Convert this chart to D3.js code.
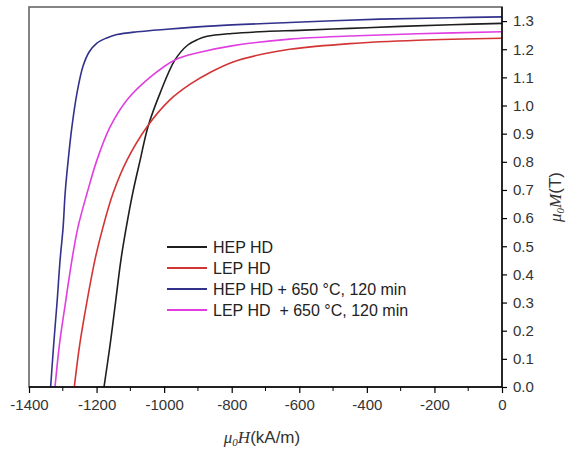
<!DOCTYPE html>
<html>
<head>
<meta charset="utf-8">
<script src="https://cdn.jsdelivr.net/npm/d3@7"></script>
<style>
  body { margin: 0; background: #fff; }
  text { font-family: "Liberation Sans", Arial, sans-serif; }
</style>
</head>
<body>
<div id="chart"></div>
<script>
// Demagnetization curves, H in kA/m, M in T
const hepH = [-1178, -1160, -1144, -1128, -1112, -1093, -1071, -1048, -1012, -968, -930, -900, -873, -800, -700, -600, -450, -300, -150, 0];
const hepM = [0, 0.15, 0.3, 0.451, 0.568, 0.689, 0.806, 0.924, 1.044, 1.162, 1.215, 1.235, 1.246, 1.256, 1.263, 1.267, 1.274, 1.281, 1.287, 1.292];

const lepH = [-1266, -1250, -1229, -1205, -1181, -1151, -1110, -1051, -983, -924, -860, -796, -700, -628, -450, -250, 0];
const lepM = [0, 0.15, 0.3, 0.451, 0.568, 0.689, 0.806, 0.924, 1.02, 1.075, 1.12, 1.155, 1.185, 1.2, 1.22, 1.232, 1.239];

const hepAnnH = [-1336, -1327, -1317, -1308, -1299, -1293, -1284, -1273, -1258, -1240, -1222, -1199, -1170, -1140, -1080, -992, -850, -628, -362, -150, 0];
const hepAnnM = [0, 0.15, 0.3, 0.451, 0.568, 0.689, 0.806, 0.924, 1.044, 1.14, 1.19, 1.222, 1.24, 1.252, 1.262, 1.271, 1.283, 1.295, 1.307, 1.312, 1.315];

const lepAnnH = [-1323, -1310, -1292, -1273, -1255, -1228, -1199, -1160, -1110, -1042, -968, -894, -800, -628, -450, -250, 0];
const lepAnnM = [0, 0.15, 0.3, 0.451, 0.568, 0.689, 0.806, 0.924, 1.02, 1.1, 1.162, 1.189, 1.212, 1.236, 1.247, 1.255, 1.262];

const seriesNames = ["HEP HD", "LEP HD", "HEP HD + 650 \u00b0C, 120 min", "LEP HD  + 650 \u00b0C, 120 min"];
const seriesColors = ["#1e1e1e", "#d33434", "#32328c", "#e03ee0"];

const xTicks = [-1400, -1200, -1000, -800, -600, -400, -200, 0];
const xMinorTicks = [-1300, -1100, -900, -700, -500, -300, -100];
const yTicks = [0, 0.1, 0.2, 0.3, 0.4, 0.5, 0.6, 0.7, 0.8, 0.9, 1.0, 1.1, 1.2, 1.3];

const width = 570;
const height = 452;
const plot = { left: 29, top: 7, right: 502, bottom: 387 };

const svg = d3.select("#chart").append("svg")
    .attr("width", width)
    .attr("height", height);

const x = d3.scaleLinear().domain([-1400, 0]).range([plot.left, plot.right]);
const y = d3.scaleLinear().domain([0, 1.35]).range([plot.bottom, plot.top]);

svg.append("clipPath").attr("id", "clip")
  .append("rect")
    .attr("x", plot.left).attr("y", plot.top)
    .attr("width", plot.right - plot.left)
    .attr("height", plot.bottom - plot.top);

// frame (grey on left/top)
svg.append("rect")
    .attr("x", plot.left).attr("y", plot.top)
    .attr("width", plot.right - plot.left)
    .attr("height", plot.bottom - plot.top)
    .attr("fill", "none")
    .attr("stroke", "#666")
    .attr("stroke-width", 1.6);

// curves
const series = [
    { H: hepH, M: hepM },
    { H: lepH, M: lepM },
    { H: hepAnnH, M: hepAnnM },
    { H: lepAnnH, M: lepAnnM }
];

const line = d3.line()
    .x(d => x(d[0]))
    .y(d => y(d[1]))
    .curve(d3.curveCatmullRom.alpha(0.5));

svg.append("g")
    .attr("clip-path", "url(#clip)")
  .selectAll("path")
  .data(series)
  .join("path")
    .attr("fill", "none")
    .attr("stroke", (d, i) => seriesColors[i])
    .attr("stroke-width", 1.6)
    .attr("d", d => line(d.H.map((h, i) => [h, d.M[i]])));

// x axis
const xAxis = svg.append("g")
    .attr("transform", `translate(0,${plot.bottom})`)
    .call(d3.axisBottom(x).tickValues(xTicks).tickSize(6).tickPadding(6)
        .tickSizeOuter(0).tickFormat(d => String(d)));
xAxis.append("g")
  .selectAll("line")
  .data(xMinorTicks)
  .join("line")
    .attr("x1", d => x(d)).attr("x2", d => x(d))
    .attr("y1", 0).attr("y2", 4)
    .attr("stroke", "#000");

// y axis on the right
const yAxis = svg.append("g")
    .attr("transform", `translate(${plot.right},0)`)
    .call(d3.axisRight(y).tickValues(yTicks).tickSize(5).tickPadding(6)
        .tickSizeOuter(0).tickFormat(d3.format(".1f")));

[xAxis, yAxis].forEach(a => {
    a.select(".domain").attr("stroke", "#000").attr("stroke-width", 1.4);
    a.selectAll(".tick line").attr("stroke", "#000").attr("stroke-width", 1.2);
    a.selectAll("text")
        .attr("font-size", 15)
        .attr("fill", "#333")
        .style("font-family", "'Liberation Sans', Arial, sans-serif");
});
yAxis.select(".domain").attr("d", `M0,${plot.top}V${plot.bottom}`);
xAxis.select(".domain").attr("d", `M${plot.left},0H${plot.right}`);

// axis titles
const xTitle = svg.append("text")
    .attr("x", 262)
    .attr("y", 443)
    .attr("text-anchor", "middle")
    .attr("font-size", 17)
    .attr("fill", "#333");
xTitle.append("tspan").text("\u03bc").attr("font-style", "italic")
    .style("font-family", "'Liberation Serif', serif");
xTitle.append("tspan").text("0").attr("font-style", "italic").attr("font-size", 11)
    .attr("dy", 3).style("font-family", "'Liberation Serif', serif");
xTitle.append("tspan").text("H").attr("font-style", "italic").attr("dy", -3)
    .style("font-family", "'Liberation Serif', serif");
xTitle.append("tspan").text("(kA/m)");

const yTitle = svg.append("text")
    .attr("transform", "translate(561,197) rotate(-90)")
    .attr("text-anchor", "middle")
    .attr("font-size", 17)
    .attr("fill", "#333");
yTitle.append("tspan").text("\u03bc").attr("font-style", "italic")
    .style("font-family", "'Liberation Serif', serif");
yTitle.append("tspan").text("0").attr("font-style", "italic").attr("font-size", 11)
    .attr("dy", 3).style("font-family", "'Liberation Serif', serif");
yTitle.append("tspan").text("M").attr("font-style", "italic").attr("dy", -3)
    .style("font-family", "'Liberation Serif', serif");
yTitle.append("tspan").text("(T)");

// legend
const legend = svg.append("g")
  .selectAll("g")
  .data(seriesNames)
  .join("g")
    .attr("transform", (d, i) => `translate(167,${247 + i * 21})`);

legend.append("line")
    .attr("x1", 0).attr("x2", 40)
    .attr("stroke", (d, i) => seriesColors[i])
    .attr("stroke-width", 1.8);

legend.append("text")
    .attr("x", 46)
    .attr("dy", "0.36em")
    .attr("font-size", 16)
    .attr("fill", "#222")
    .style("white-space", "pre")
    .text(d => d);
</script>
</body>
</html>
